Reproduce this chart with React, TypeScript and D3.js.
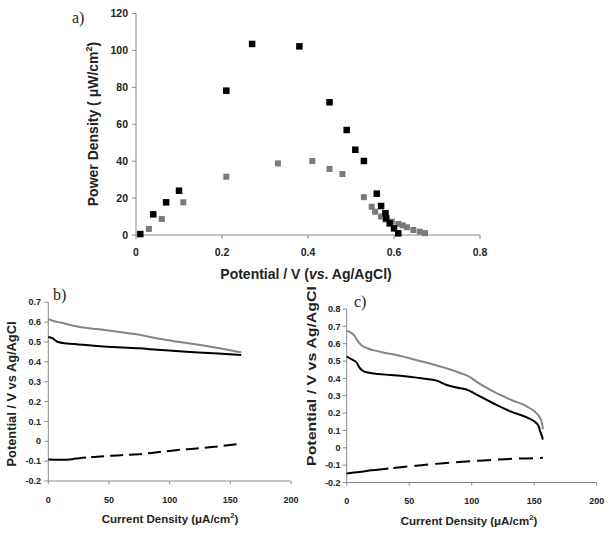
import React from "react";
import * as d3 from "d3";

// Panel a: power density vs potential
const aBlackX = [0.01, 0.04, 0.07, 0.10, 0.21, 0.27, 0.38, 0.45, 0.49, 0.51, 0.53, 0.56, 0.57, 0.58, 0.582, 0.59, 0.60, 0.61];
const aBlackY = [0.5, 11.2, 17.7, 24.0, 78.2, 103.5, 102.2, 71.9, 56.9, 46.2, 40.1, 22.4, 15.7, 11.8, 9.0, 6.3, 3.6, 0.9];
const aGrayX = [0.03, 0.06, 0.11, 0.21, 0.33, 0.41, 0.45, 0.48, 0.53, 0.548, 0.556, 0.57, 0.58, 0.595, 0.61, 0.62, 0.63, 0.645, 0.66, 0.672];
const aGrayY = [3.3, 8.7, 17.7, 31.6, 38.8, 40.1, 35.8, 33.0, 20.5, 15.3, 12.6, 10.0, 8.5, 7.2, 6.0, 5.2, 4.2, 2.7, 1.8, 1.0];
const aXTicks = [0, 0.2, 0.4, 0.6, 0.8];
const aYTicks = [0, 20, 40, 60, 80, 100, 120];

// Panel b: polarisation curves
const bGrayX = [0, 5, 10, 25, 40, 57, 75, 90, 105, 120, 140, 159];
const bGrayY = [0.615, 0.605, 0.598, 0.577, 0.565, 0.552, 0.537, 0.518, 0.503, 0.49, 0.47, 0.448];
const bBlackX = [0, 3, 8, 15, 25, 40, 57, 75, 90, 105, 120, 140, 159];
const bBlackY = [0.525, 0.52, 0.5, 0.493, 0.488, 0.48, 0.473, 0.468, 0.461, 0.455, 0.449, 0.442, 0.435];
const bDashX = [0, 10, 20, 25, 40, 57, 75, 90, 105, 120, 140, 159];
const bDashY = [-0.092, -0.093, -0.09, -0.085, -0.078, -0.071, -0.065, -0.055, -0.045, -0.037, -0.026, -0.012];
const bYTicks = [-0.2, -0.1, 0, 0.1, 0.2, 0.3, 0.4, 0.5, 0.6, 0.7];

// Panel c
const cGrayX = [0, 3, 6, 8, 10, 13, 17, 21, 30, 40, 48, 61, 74, 88, 98, 104, 118, 131, 145, 151, 154, 155.5, 156.5, 157];
const cGrayY = [0.675, 0.665, 0.648, 0.625, 0.605, 0.585, 0.572, 0.563, 0.548, 0.535, 0.52, 0.496, 0.47, 0.438, 0.41, 0.38, 0.322, 0.278, 0.235, 0.205, 0.18, 0.16, 0.13, 0.108];
const cBlackX = [0, 4, 8, 10, 12, 16, 25, 35, 50, 61, 72, 80, 88, 98, 104, 118, 131, 145, 151, 153.5, 155, 156, 157];
const cBlackY = [0.525, 0.51, 0.49, 0.465, 0.448, 0.435, 0.425, 0.42, 0.41, 0.4, 0.387, 0.362, 0.348, 0.33, 0.306, 0.254, 0.21, 0.172, 0.147, 0.125, 0.09, 0.07, 0.047];
const cDashX = [0, 10, 20, 30, 45, 60, 75, 90, 105, 120, 135, 150, 157];
const cDashY = [-0.148, -0.14, -0.13, -0.122, -0.11, -0.1, -0.09, -0.082, -0.075, -0.068, -0.063, -0.06, -0.058];
const cYTicks = [-0.2, -0.1, 0, 0.1, 0.2, 0.3, 0.4, 0.5, 0.6, 0.7, 0.8];

const currentTicks = [0, 50, 100, 150, 200];

const AXIS = "#8a8a8a";
const TXT = "#222";
const FONT = "'Liberation Sans', Arial, sans-serif";
const SERIF = "'Liberation Serif', 'Times New Roman', serif";

const fmt = (v: number) => {
  const r = Math.round(v * 10) / 10;
  return r === 0 ? "0" : String(r);
};

type Pt = [number, number];
const zip = (xs: number[], ys: number[]): Pt[] => xs.map((x, i) => [x, ys[i]]);

function Axes({ x, y, xTicks, yTicks, tickSize, labelSize, xLabelY, yLabelX, xfmt, yfmt }: any) {
  const [x0, x1] = x.range();
  const [y0, y1] = y.range();
  return (
    <g>
      <line x1={x0} x2={x0} y1={y0} y2={y1} stroke={AXIS} strokeWidth={1} />
      <line x1={x0} x2={x1} y1={y0} y2={y0} stroke={AXIS} strokeWidth={1} />
      {yTicks.map((t: number) => (
        <g key={"y" + t}>
          <line x1={x0 - 4} x2={x0} y1={y(t)} y2={y(t)} stroke={AXIS} />
          <text x={yLabelX} y={y(t)} dy="0.35em" textAnchor="end" fontFamily={FONT} fontWeight="bold" fontSize={labelSize} fill={TXT}>
            {yfmt(t)}
          </text>
        </g>
      ))}
      {xTicks.map((t: number) => (
        <g key={"x" + t}>
          <line x1={x(t)} x2={x(t)} y1={y0} y2={y0 + tickSize} stroke={AXIS} />
          <text x={x(t)} y={xLabelY} textAnchor="middle" fontFamily={FONT} fontWeight="bold" fontSize={labelSize} fill={TXT}>
            {xfmt(t)}
          </text>
        </g>
      ))}
    </g>
  );
}

export default function App() {
  // panel a
  const xA = d3.scaleLinear().domain([0, 0.8]).range([136, 480]);
  const yA = d3.scaleLinear().domain([0, 120]).range([235, 13.5]);
  // panel b
  const xB = d3.scaleLinear().domain([0, 200]).range([48.3, 291]);
  const yB = d3.scaleLinear().domain([-0.2, 0.7]).range([481, 302.3]);
  // panel c
  const xC = d3.scaleLinear().domain([0, 200]).range([346.7, 596.7]);
  const yC = d3.scaleLinear().domain([-0.2, 0.8]).range([482.5, 309]);

  const lineB = d3.line<Pt>().x((d) => xB(d[0])).y((d) => yB(d[1])).curve(d3.curveMonotoneX);
  const lineC = d3.line<Pt>().x((d) => xC(d[0])).y((d) => yC(d[1])).curve(d3.curveMonotoneX);

  const sq = 6.5;
  const sqG = 6;

  const yTitle = (cx: number, cy: number, len: number, size: number) => (
    <text
      transform={`translate(${cx},${cy}) rotate(-90)`}
      textAnchor="middle"
      dy="0.35em"
      fontFamily={FONT}
      fontWeight="bold"
      fontSize={size}
      fill={TXT}
      textLength={len}
      lengthAdjust="spacingAndGlyphs"
    >
      Potential / V vs Ag/AgCl
    </text>
  );

  const xTitle = (cx: number, by: number) => (
    <text x={cx} y={by} textAnchor="middle" fontFamily={FONT} fontWeight="bold" fontSize={11.5} fill={TXT}>
      Current Density (μA/cm
      <tspan dy={-5} fontSize={7.5}>2</tspan>
      <tspan dy={5}>)</tspan>
    </text>
  );

  return (
    <svg width={614} height={537} style={{ position: "absolute", left: 0, top: 0, background: "#fff" }}>
      <rect width={614} height={537} fill="#fff" />
      {/* Panel a */}
      <Axes x={xA} y={yA} xTicks={aXTicks} yTicks={aYTicks} tickSize={4} labelSize={10.5} xLabelY={256} yLabelX={128}
        xfmt={(t: number) => fmt(t)} yfmt={(t: number) => String(t)} />
      {zip(aGrayX, aGrayY).map((d, i) => (
        <rect key={"ag" + i} x={xA(d[0]) - sqG / 2} y={yA(d[1]) - sqG / 2} width={sqG} height={sqG} fill="#7a7a7a" />
      ))}
      {zip(aBlackX, aBlackY).map((d, i) => (
        <rect key={"ab" + i} x={xA(d[0]) - sq / 2} y={yA(d[1]) - sq / 2} width={sq} height={sq} fill="#000" />
      ))}
      <text x={72} y={23} fontFamily={SERIF} fontSize={16} fill={TXT}>a)</text>
      <text transform="translate(93,124) rotate(-90)" textAnchor="middle" dy="0.35em" fontFamily={FONT} fontWeight="bold" fontSize={14} fill={TXT}>
        Power Density ( μW/cm
        <tspan dy={-6} fontSize={9}>2</tspan>
        <tspan dy={6}>)</tspan>
      </text>
      <text x={306} y={279} textAnchor="middle" fontFamily={FONT} fontWeight="bold" fontSize={14} fill={TXT}>
        Potential / V (<tspan fontStyle="italic">vs</tspan>. Ag/AgCl)
      </text>

      {/* Panel b */}
      <Axes x={xB} y={yB} xTicks={currentTicks} yTicks={bYTicks} tickSize={3} labelSize={9} xLabelY={503} yLabelX={41}
        xfmt={(t: number) => String(t)} yfmt={fmt} />
      <path d={lineB(zip(bGrayX, bGrayY)) || ""} fill="none" stroke="#858585" strokeWidth={2} />
      <path d={lineB(zip(bBlackX, bBlackY)) || ""} fill="none" stroke="#000" strokeWidth={2} />
      <path d={lineB(zip(bDashX, bDashY)) || ""} fill="none" stroke="#000" strokeWidth={2} strokeDasharray="38 5 13 6 13 6 13 6 13 6 13 6 13 6 13 6 13 6 13 6 13 6" />
      <text x={53} y={300} fontFamily={SERIF} fontSize={16} fill={TXT}>b)</text>
      {yTitle(12, 394, 145, 12)}
      {xTitle(170, 523)}

      {/* Panel c */}
      <Axes x={xC} y={yC} xTicks={currentTicks} yTicks={cYTicks} tickSize={3} labelSize={9} xLabelY={504} yLabelX={340.5}
        xfmt={(t: number) => String(t)} yfmt={fmt} />
      <path d={lineC(zip(cGrayX, cGrayY)) || ""} fill="none" stroke="#858585" strokeWidth={2} />
      <path d={lineC(zip(cBlackX, cBlackY)) || ""} fill="none" stroke="#000" strokeWidth={2} />
      <path d={lineC(zip(cDashX, cDashY)) || ""} fill="none" stroke="#000" strokeWidth={2} strokeDasharray="42 5 14 7 14 7 14 7 14 7 14 7 14 7 14 7 14 7 14 7" />
      <text x={354} y={307} fontFamily={SERIF} fontSize={16} fill={TXT}>c)</text>
      {yTitle(311.5, 376, 180, 13)}
      {xTitle(469, 525)}
    </svg>
  );
}
